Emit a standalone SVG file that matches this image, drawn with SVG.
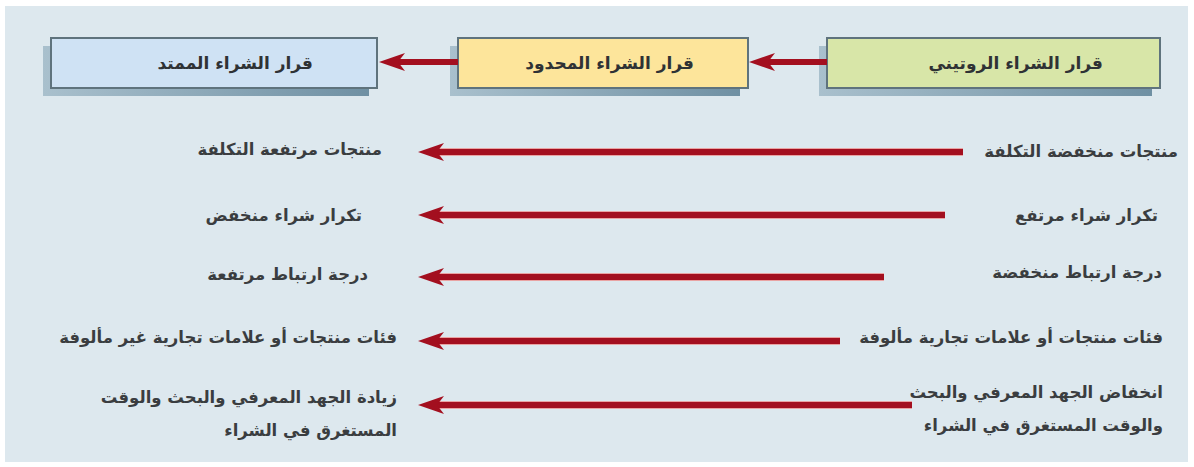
<svg xmlns="http://www.w3.org/2000/svg" width="1194" height="467" viewBox="0 0 1194 467">
  <defs>
    <style>
      .panel { fill: #dde8ee; }
      .box { stroke: #5f737d; stroke-width: 2; }
      .blue { fill: #cfe2f4; }
      .yellow { fill: #fde59b; }
      .green { fill: #d8e6a8; }
      .label { font-family: "DejaVu Sans", sans-serif; font-weight: bold; font-size: 16.5px; fill: #3a3d40; }
      .title { font-family: "DejaVu Sans", sans-serif; font-weight: bold; font-size: 17px; fill: #2f3235; }
      .halo { stroke: #e9a3a3; stroke-width: 8; fill: none; }
      .shaft { stroke: #a30f1f; stroke-width: 6; fill: none; }
    </style>
    <!-- barbed arrowhead, line ends at the notch -->
    <marker id="head" markerUnits="userSpaceOnUse" markerWidth="30" markerHeight="24" viewBox="0 -12 30 24" refX="7" refY="0" orient="auto">
      <path d="M26,0 L0,-9 L7,0 L0,9 Z" fill="#a30f1f"/>
    </marker>
    <linearGradient id="shadeL" x1="0" y1="0" x2="1" y2="0">
      <stop offset="0" stop-color="#a9c0cd"/>
      <stop offset="1" stop-color="#6f90a3"/>
    </linearGradient>
  </defs>

  <!-- background -->
  <rect x="0" y="0" width="1194" height="467" fill="#ffffff"/>
  <rect class="panel" x="5" y="6" width="1183" height="456"/>

  <!-- decision boxes -->
  <g id="node-extended">
    <rect x="43" y="46" width="326" height="50" fill="url(#shadeL)"/>
    <rect class="box blue" x="51" y="38" width="326" height="50"/>
    <text class="title" x="313" y="69" direction="rtl" text-anchor="start">قرار الشراء الممتد</text>
  </g>
  <g id="node-limited">
    <rect x="450" y="46" width="290" height="50" fill="url(#shadeL)"/>
    <rect class="box yellow" x="458" y="38" width="290" height="50"/>
    <text class="title" x="694" y="69" direction="rtl" text-anchor="start">قرار الشراء المحدود</text>
  </g>
  <g id="node-routine">
    <rect x="819" y="46" width="333" height="50" fill="url(#shadeL)"/>
    <rect class="box green" x="827" y="38" width="333" height="50"/>
    <text class="title" x="1103" y="69" direction="rtl" text-anchor="start">قرار الشراء الروتيني</text>
  </g>

  <!-- connectors -->
  <g id="connectors">
    <line class="shaft" x1="458" y1="62" x2="398" y2="62" marker-end="url(#head)"/>
    <line class="shaft" x1="827" y1="62" x2="768" y2="62" marker-end="url(#head)"/>

    <line class="halo" x1="963" y1="152" x2="437" y2="152"/>
    <line class="shaft" x1="963" y1="152" x2="437" y2="152" marker-end="url(#head)"/>
    <line class="halo" x1="945" y1="215" x2="437" y2="215"/>
    <line class="shaft" x1="945" y1="215" x2="437" y2="215" marker-end="url(#head)"/>
    <line class="halo" x1="884" y1="277" x2="437" y2="277"/>
    <line class="shaft" x1="884" y1="277" x2="437" y2="277" marker-end="url(#head)"/>
    <line class="halo" x1="840" y1="341" x2="437" y2="341"/>
    <line class="shaft" x1="840" y1="341" x2="437" y2="341" marker-end="url(#head)"/>
    <line class="halo" x1="912" y1="405" x2="437" y2="405"/>
    <line class="shaft" x1="912" y1="405" x2="437" y2="405" marker-end="url(#head)"/>
  </g>

  <!-- routine side characteristics -->
  <g id="routine-traits">
    <text class="label" x="1178" y="157" direction="rtl" text-anchor="start">منتجات منخفضة التكلفة</text>
    <text class="label" x="1158" y="221" direction="rtl" text-anchor="start">تكرار شراء مرتفع</text>
    <text class="label" x="1162" y="278" direction="rtl" text-anchor="start">درجة ارتباط منخفضة</text>
    <text class="label" x="1163" y="343" direction="rtl" text-anchor="start">فئات منتجات أو علامات تجارية مألوفة</text>
    <text class="label" x="1163" y="398" direction="rtl" text-anchor="start">انخفاض الجهد المعرفي والبحث</text>
    <text class="label" x="1163" y="431" direction="rtl" text-anchor="start">والوقت المستغرق في الشراء</text>
  </g>

  <!-- extended side characteristics -->
  <g id="extended-traits">
    <text class="label" x="382" y="155" direction="rtl" text-anchor="start">منتجات مرتفعة التكلفة</text>
    <text class="label" x="362" y="221" direction="rtl" text-anchor="start">تكرار شراء منخفض</text>
    <text class="label" x="368" y="280" direction="rtl" text-anchor="start">درجة ارتباط مرتفعة</text>
    <text class="label" x="397" y="343" direction="rtl" text-anchor="start">فئات منتجات أو علامات تجارية غير مألوفة</text>
    <text class="label" x="397" y="403" direction="rtl" text-anchor="start">زيادة الجهد المعرفي والبحث والوقت</text>
    <text class="label" x="397" y="436" direction="rtl" text-anchor="start">المستغرق في الشراء</text>
  </g>
</svg>
